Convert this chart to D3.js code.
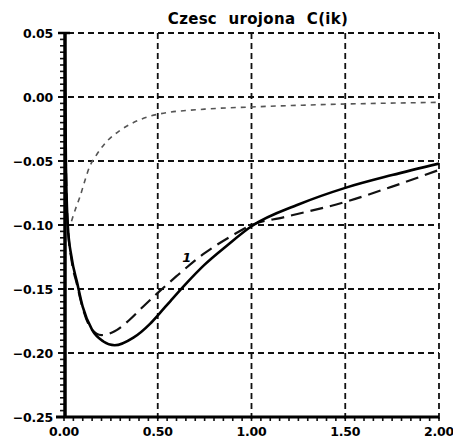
<!DOCTYPE html>
<html>
<head>
<script src="https://d3js.org/d3.v7.min.js"></script>
<style>
  body { margin: 0; background: #fff; }
  svg text { font-family: "DejaVu Sans", "Liberation Sans", sans-serif; }
  .grid line { stroke: #111; stroke-width: 1.8px; stroke-dasharray: 6,4; }
</style>
</head>
<body>
<div id="chart"></div>
<script>
// data
var title = "Czesc urojona C(ik)";
var xTicks = [0, 0.5, 1.0, 1.5, 2.0];
var yTicks = [0.05, 0.00, -0.05, -0.10, -0.15, -0.20, -0.25];

// solid curve
var solidX = [0.003, 0.01, 0.02, 0.04, 0.07, 0.1, 0.15, 0.21, 0.27, 0.37, 0.46, 0.51, 0.57, 0.65, 0.75, 0.87, 1.0, 1.25, 1.5, 1.75, 2.0];
var solidY = [0.05, -0.05, -0.10, -0.125, -0.145, -0.164, -0.182, -0.191, -0.194, -0.188, -0.177, -0.169, -0.159, -0.146, -0.131, -0.116, -0.101, -0.084, -0.071, -0.061, -0.052];

// long dashed curve (labelled 1)
var dashX = [0.003, 0.01, 0.02, 0.04, 0.07, 0.1, 0.145, 0.2, 0.27, 0.35, 0.42, 0.5, 0.6, 0.75, 0.9, 1.0, 1.17, 1.5, 1.75, 2.0];
var dashY = [0.05, -0.05, -0.10, -0.127, -0.147, -0.165, -0.181, -0.186, -0.183, -0.174, -0.164, -0.153, -0.14, -0.122, -0.108, -0.100, -0.094, -0.082, -0.070, -0.057];

// short dashed curve
var shortX = [0.04, 0.06, 0.085, 0.11, 0.135, 0.17, 0.22, 0.3, 0.4, 0.5, 0.75, 1.0, 1.5, 2.0];
var shortY = [-0.097, -0.088, -0.078, -0.066, -0.055, -0.046, -0.036, -0.026, -0.018, -0.0135, -0.0095, -0.0078, -0.0055, -0.0042];

var W = 453, H = 445;
var margin = {left: 64, right: 14, top: 33, bottom: 28};

var svg = d3.select("#chart").append("svg")
    .attr("width", W)
    .attr("height", H);

var x = d3.scaleLinear().domain([0, 2]).range([margin.left, W - margin.right]);
var y = d3.scaleLinear().domain([-0.25, 0.05]).range([H - margin.bottom, margin.top]);

svg.append("defs").append("clipPath").attr("id", "clip")
  .append("rect")
    .attr("x", x(0)).attr("y", y(0.05))
    .attr("width", x(2) - x(0)).attr("height", y(-0.25) - y(0.05));

// title
svg.append("text")
    .attr("x", 258).attr("y", 24)
    .attr("text-anchor", "middle")
    .style("font-size", "15px")
    .style("font-weight", "bold")
    .style("word-spacing", "6px")
    .style("letter-spacing", "0.3px")
    .text(title);

// grid
var grid = svg.append("g").attr("class", "grid");
grid.selectAll(".gy").data(yTicks.slice(0, -1)).enter().append("line")
    .attr("x1", x(0) - 6).attr("x2", x(2))
    .attr("y1", d => y(d)).attr("y2", d => y(d));
grid.selectAll(".gx").data(xTicks.slice(1)).enter().append("line")
    .attr("x1", d => x(d)).attr("x2", d => x(d))
    .attr("y1", y(0.05)).attr("y2", y(-0.25) + 4);

// minor ticks
var minorY = d3.range(-0.25, 0.0501, 0.005);
svg.append("g").selectAll("line").data(minorY).enter().append("line")
    .attr("x1", x(0) - 4).attr("x2", x(0))
    .attr("y1", d => y(d)).attr("y2", d => y(d))
    .attr("stroke", "#111").attr("stroke-width", 1.6);
var minorX = d3.range(0, 2.001, 0.05);
svg.append("g").selectAll("line").data(minorX).enter().append("line")
    .attr("x1", d => x(d)).attr("x2", d => x(d))
    .attr("y1", y(-0.25)).attr("y2", y(-0.25) + 4)
    .attr("stroke", "#111").attr("stroke-width", 1.6);

// axes lines
svg.append("line")
    .attr("x1", x(0) + 1).attr("x2", x(0) + 1)
    .attr("y1", y(0.05)).attr("y2", y(-0.25))
    .attr("stroke", "#000").attr("stroke-width", 3.5);
svg.append("line")
    .attr("x1", x(0) - 8).attr("x2", x(2))
    .attr("y1", y(-0.25)).attr("y2", y(-0.25))
    .attr("stroke", "#000").attr("stroke-width", 3);
svg.append("line")
    .attr("x1", x(0) - 6).attr("x2", x(0) + 6)
    .attr("y1", y(0.05)).attr("y2", y(0.05))
    .attr("stroke", "#000").attr("stroke-width", 2.5);

// tick labels
svg.append("g").selectAll("text").data(yTicks).enter().append("text")
    .attr("x", x(0) - 11).attr("y", d => y(d) + 5)
    .attr("text-anchor", "end")
    .style("font-size", "12.5px").style("font-weight", "bold")
    .style("letter-spacing", "-0.2px")
    .text(d => (d < 0 ? "\u2212" : "") + Math.abs(d).toFixed(2));
svg.append("g").selectAll("text").data(xTicks).enter().append("text")
    .attr("x", d => x(d)).attr("y", y(-0.25) + 19)
    .attr("text-anchor", "middle")
    .style("font-size", "12.5px").style("font-weight", "bold")
    .style("letter-spacing", "-0.2px")
    .text(d => d.toFixed(2));

// curves
var line = d3.line()
    .x(d => x(d[0]))
    .y(d => y(d[1]))
    .curve(d3.curveMonotoneX);

var plot = svg.append("g").attr("clip-path", "url(#clip)");

plot.append("path")
    .attr("d", line(d3.zip(shortX, shortY)))
    .attr("fill", "none").attr("stroke", "#555")
    .attr("stroke-width", 1.6).attr("stroke-dasharray", "5,5");

plot.append("path")
    .attr("d", line(d3.zip(dashX, dashY)))
    .attr("fill", "none").attr("stroke", "#111")
    .attr("stroke-width", 2.2).attr("stroke-dasharray", "13,7");

plot.append("path")
    .attr("d", line(d3.zip(solidX, solidY)))
    .attr("fill", "none").attr("stroke", "#000")
    .attr("stroke-width", 2.6);

// curve label
svg.append("text")
    .attr("x", x(0.63)).attr("y", y(-0.129))
    .style("font-size", "13px").style("font-weight", "bold")
    .style("font-style", "italic")
    .text("1");
</script>
</body>
</html>
